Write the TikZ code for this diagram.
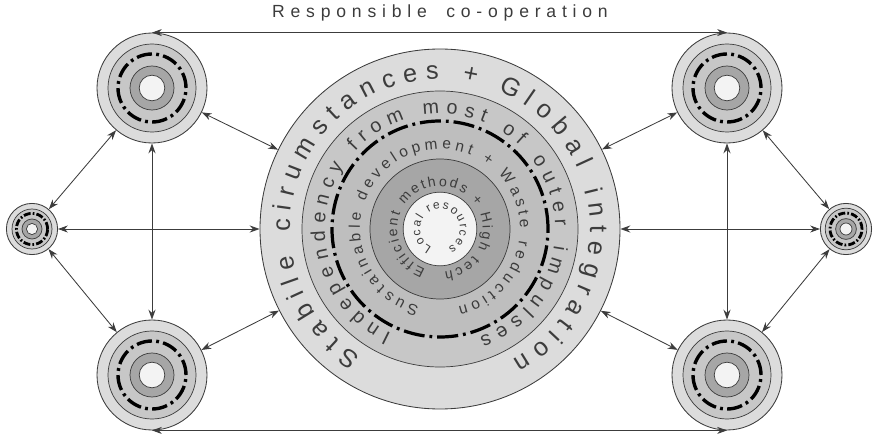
\documentclass[tikz,border=0pt]{standalone}
\usepackage{fontspec}
\setmainfont{Liberation Sans}
\newfontfamily\spacedfont[LetterSpace=33]{Liberation Sans}
\usepackage{tikz}
\usetikzlibrary{arrows.meta,decorations.text}
\usepackage{xcolor}
\definecolor{Ink}{HTML}{3C3C3C}
\definecolor{RingOuter}{HTML}{DCDCDC}
\definecolor{RingMid}{HTML}{C7C7C7}
\definecolor{RingMidDark}{HTML}{BEBEBE}
\definecolor{RingInner}{HTML}{A6A6A6}
\definecolor{Core}{HTML}{F3F3F3}

\tikzset{
  sat/.style={circle,draw=Ink,fill=RingOuter,line width=0.6pt,inner sep=0pt,minimum size=2.75cm},
  tinysat/.style={circle,draw=Ink,fill=RingOuter,line width=0.6pt,inner sep=0pt,minimum size=1.28cm},
  ringline/.style={draw=Ink,line width=0.5pt},
  dashring/.style={line width=2.3pt,dash pattern=on 15pt off 3.5pt on 2pt off 3.5pt},
  dashringsat/.style={line width=2.4pt,dash pattern=on 11pt off 3pt on 2pt off 3pt},
  dashringtiny/.style={line width=2pt,dash pattern=on 5pt off 1.5pt on 1.2pt off 1.5pt},
  link/.style={<->,Ink,line width=0.6pt},
}

\begin{document}
\begin{tikzpicture}[x=1cm,y=1cm,>={Stealth[length=7pt,width=5pt]}]
\useasboundingbox (0,0) rectangle (21.9,10.875);
% title
\node[font=\fontsize{12.5}{14}\selectfont,text=Ink] (title) at (11.0,10.55) {\spacedfont Responsible\hspace{0.5em} co-operation};
% central circle
\node[circle,draw=Ink,fill=RingOuter,line width=0.6pt,inner sep=0pt,minimum size=9cm] (main) at (11.0,5.15) {};
\draw[ringline,fill=RingMid] (main.center) circle (3.45);
\fill[RingMidDark] (main.center) circle (2.7);
\draw[dashring] (main.center) circle (2.7);
\draw[ringline,fill=RingInner] (main.center) circle (1.75);
\draw[ringline,fill=Core] (main.center) circle (0.92);
% ring texts
\path[decorate,decoration={text along path,text align=fit to path,
  text={|\fontsize{18}{18}\selectfont\color{Ink}|Stabile cirumstances + Global integration}}]
  (main.center) ++(238:3.75) arc[start angle=238,end angle=-61,radius=3.75];
\path[decorate,decoration={text along path,text align=fit to path,
  text={|\fontsize{14}{14}\selectfont\color{Ink}|Independency from most of outer impulses}}]
  (main.center) ++(245:2.88) arc[start angle=245,end angle=-70,radius=2.88];
\path[decorate,decoration={text along path,text align=fit to path,
  text={|\fontsize{11}{11}\selectfont\color{Ink}|Sustainable development + Waste reduction}}]
  (main.center) ++(255:2.0) arc[start angle=255,end angle=-77,radius=2.0];
\path[decorate,decoration={text along path,text align=fit to path,
  text={|\fontsize{10}{10}\selectfont\color{Ink}|Efficient methods + High tech}}]
  (main.center) ++(250:1.07) arc[start angle=250,end angle=-84,radius=1.07];
\path[decorate,decoration={text along path,text align=fit to path,
  text={|\fontsize{8.5}{8.5}\selectfont\color{Ink}|Local resources}}]
  (main.center) ++(246:0.5) arc[start angle=246,end angle=-66,radius=0.5];
% satellites
\node[sat] (tl) at (3.8,8.675) {};
\node[sat] (tr) at (18.175,8.675) {};
\node[sat] (bl) at (3.8,1.5) {};
\node[sat] (br) at (18.175,1.5) {};
\node[tinysat] (lft) at (0.8,5.15) {};
\node[tinysat] (rgt) at (21.15,5.15) {};
\draw[ringline,fill=RingMid] (tl.center) circle (1.1);
\draw[dashringsat] (tl.center) circle (0.85);
\draw[ringline,fill=RingInner] (tl.center) circle (0.55);
\draw[ringline,fill=Core] (tl.center) circle (0.32);
\draw[ringline,fill=RingMid] (tr.center) circle (1.1);
\draw[dashringsat] (tr.center) circle (0.85);
\draw[ringline,fill=RingInner] (tr.center) circle (0.55);
\draw[ringline,fill=Core] (tr.center) circle (0.32);
\draw[ringline,fill=RingMid] (bl.center) circle (1.1);
\draw[dashringsat] (bl.center) circle (0.85);
\draw[ringline,fill=RingInner] (bl.center) circle (0.55);
\draw[ringline,fill=Core] (bl.center) circle (0.32);
\draw[ringline,fill=RingMid] (br.center) circle (1.1);
\draw[dashringsat] (br.center) circle (0.85);
\draw[ringline,fill=RingInner] (br.center) circle (0.55);
\draw[ringline,fill=Core] (br.center) circle (0.32);
\draw[ringline,fill=RingMid] (lft.center) circle (0.5);
\draw[dashringtiny] (lft.center) circle (0.39);
\draw[ringline,fill=RingInner] (lft.center) circle (0.25);
\draw[ringline,fill=Core] (lft.center) circle (0.14);
\draw[ringline,fill=RingMid] (rgt.center) circle (0.52);
\draw[dashringtiny] (rgt.center) circle (0.4);
\draw[ringline,fill=RingInner] (rgt.center) circle (0.26);
\draw[ringline,fill=Core] (rgt.center) circle (0.15);
% links
\draw[link] (tl.north) -- (tr.north);
\draw[link] (bl.south) -- (br.south);
\draw[link] (tl) -- (main);
\draw[link] (tr) -- (main);
\draw[link] (bl) -- (main);
\draw[link] (br) -- (main);
\draw[link] (tl) -- (bl);
\draw[link] (tr) -- (br);
\draw[link] (lft) -- (main);
\draw[link] (rgt) -- (main);
\draw[link] (lft) -- (tl);
\draw[link] (lft) -- (bl);
\draw[link] (rgt) -- (tr);
\draw[link] (rgt) -- (br);
\end{tikzpicture}
\end{document}
